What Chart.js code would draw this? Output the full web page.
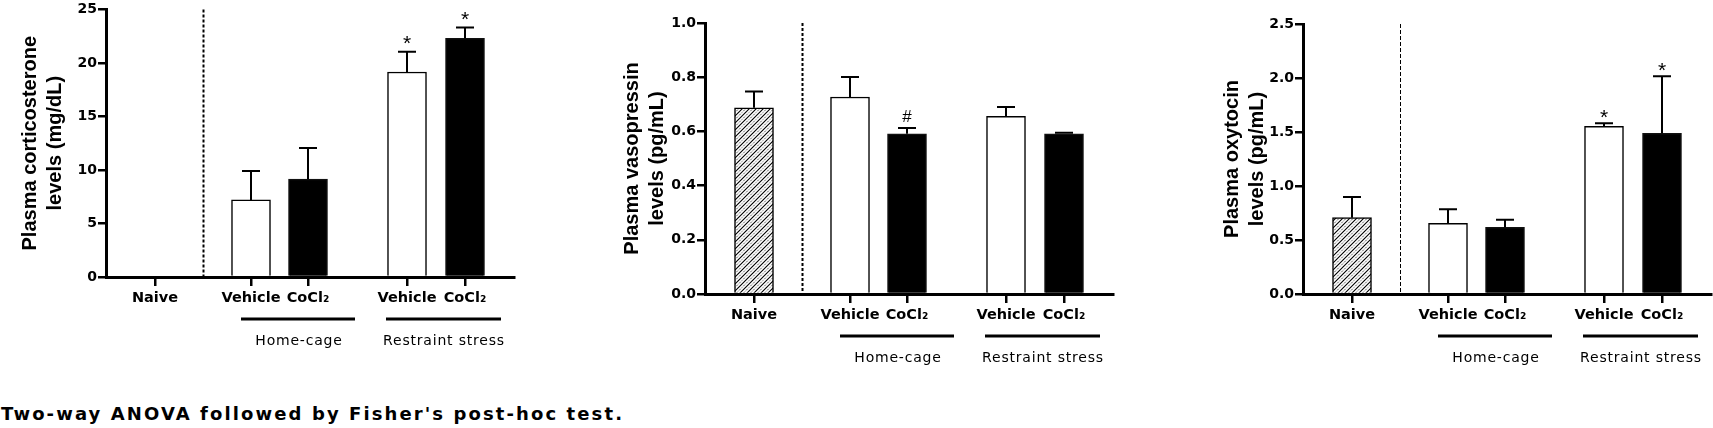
<!DOCTYPE html>
<html>
<head>
<meta charset="utf-8">
<script src="https://cdn.jsdelivr.net/npm/chart.js@4.4.1/dist/chart.umd.min.js"></script>
<style>
  html, body { margin: 0; padding: 0; background: #fff; }
  #page { position: relative; width: 1713px; height: 428px; overflow: hidden; background: #fff; }
  #page canvas { position: absolute; top: 0; }
  #note {
    position: absolute; left: 1px; top: 405px;
    font: bold 18px "DejaVu Sans", sans-serif; line-height: 18px;
    letter-spacing: 2.1px; white-space: nowrap; color: #000;
  }
</style>
</head>
<body>
<div id="page">
  <canvas id="cCort" width="516" height="375" style="left:0px"></canvas>
  <canvas id="cVaso" width="516" height="375" style="left:599px"></canvas>
  <canvas id="cOxy" width="516" height="375" style="left:1197px"></canvas>
  <div id="note">Two-way ANOVA followed by Fisher's post-hoc test.</div>
</div>
<script>
// ---- data ----
const categories = ["Naive", "Vehicle", "CoCl₂", "Vehicle", "CoCl₂"];
const treatment = ["naive", "vehicle", "cocl2", "vehicle", "cocl2"];
const groupNames = ["Home-cage", "Restraint stress"];

const cortMean = [null, 7.2, 9.15, 19.15, 22.3];
const cortSem = [null, 2.7, 2.9, 1.9, 1.0];
const cortMarks = ["", "", "", "*", "*"];

const vasoMean = [0.687, 0.727, 0.591, 0.656, 0.591];
const vasoSem = [0.06, 0.074, 0.022, 0.034, 0.004];
const vasoMarks = ["", "", "#", "", ""];

const oxyMean = [0.707, 0.654, 0.617, 1.552, 1.488];
const oxySem = [0.191, 0.13, 0.071, 0.028, 0.528];
const oxyMarks = ["", "", "", "*", "*"];

// ---- layout (x-axis units = px of plot width) ----
const SLOT_X = [0, 96, 153, 252, 310];
const X_MIN = -49, X_MAX = 359;
const DIVIDER_X = 48;
const GROUP_SPAN = [[86, 200], [231, 346]];
const GROUP_LABEL_X = [144, 289];
const Y_AXIS_W = 106;
const CANVAS_H = 375;
const CAP_W = 18;

Chart.defaults.font.family = "'DejaVu Sans', sans-serif";
Chart.defaults.color = "#000";

function hatchPattern() {
  const s = 7;
  const c = document.createElement("canvas");
  c.width = c.height = s;
  const g = c.getContext("2d");
  g.fillStyle = "#fff";
  g.fillRect(0, 0, s, s);
  g.strokeStyle = "#000";
  g.lineWidth = 1.1;
  g.beginPath();
  for (const k of [0, s, 2 * s]) { g.moveTo(k + 1, -1); g.lineTo(-1, k + 1); }
  g.stroke();
  g.lineWidth = 0.9;
  g.setLineDash([1, 1.2]);
  g.beginPath();
  for (const k of [s / 2, 1.5 * s]) { g.moveTo(k + 1, -1); g.lineTo(-1, k + 1); }
  g.stroke();
  return g.createPattern(c, "repeat");
}

const MARK_FONT = { "*": { size: 21, lift: 12 }, "#": { size: 17, lift: 6 } };

function overlayPlugin(cfg) {
  return {
    id: "overlay",
    afterDatasetsDraw(chart) {
      const { ctx, chartArea: a, scales: { x, y } } = chart;
      const bars = chart.getDatasetMeta(0).data;
      ctx.save();
      // dashed divider between naive and the groups
      ctx.strokeStyle = "#000";
      ctx.lineWidth = cfg.dividerWidth;
      ctx.setLineDash(cfg.dividerDash);
      const dx = Math.round(x.getPixelForValue(DIVIDER_X)) + 0.5;
      ctx.beginPath();
      ctx.moveTo(dx, a.top);
      ctx.lineTo(dx, a.bottom);
      ctx.stroke();
      ctx.setLineDash([]);

      // error bars (upper only) + significance marks
      ctx.lineWidth = 2;
      cfg.mean.forEach((m, i) => {
        if (m == null) return;
        const bx = bars[i].x;
        const yTop = y.getPixelForValue(m);
        const yCap = y.getPixelForValue(m + cfg.sem[i]);
        ctx.beginPath();
        ctx.moveTo(bx, yTop);
        ctx.lineTo(bx, yCap);
        ctx.moveTo(bx - CAP_W / 2, yCap);
        ctx.lineTo(bx + CAP_W / 2, yCap);
        ctx.stroke();
        const mk = cfg.marks[i];
        if (mk) {
          const f = MARK_FONT[mk];
          ctx.font = `${f.size}px 'Liberation Sans', Arial, sans-serif`;
          ctx.fillStyle = "#000";
          ctx.textAlign = "center";
          ctx.textBaseline = "alphabetic";
          ctx.fillText(mk, bx, yCap - cfg.markGap + f.lift);
        }
      });
      ctx.restore();
    },
    afterDraw(chart) {
      const { ctx, chartArea: a, scales: { x } } = chart;
      ctx.save();
      ctx.strokeStyle = "#000";
      ctx.lineWidth = 3;
      ctx.fillStyle = "#000";
      ctx.font = "14px 'DejaVu Sans', sans-serif";
      if ("letterSpacing" in ctx) ctx.letterSpacing = "0.8px";
      ctx.textAlign = "center";
      ctx.textBaseline = "middle";
      GROUP_SPAN.forEach((sp, i) => {
        const ly = a.bottom + 42;
        ctx.beginPath();
        ctx.moveTo(x.getPixelForValue(sp[0]), ly);
        ctx.lineTo(x.getPixelForValue(sp[1]), ly);
        ctx.stroke();
        ctx.fillText(groupNames[i], x.getPixelForValue(GROUP_LABEL_X[i]), a.bottom + 64);
      });
      ctx.restore();
    }
  };
}

function buildPanel(canvasId, cfg) {
  const el = document.getElementById(canvasId);
  const hatch = hatchPattern();
  const fill = { naive: hatch, vehicle: "#fff", cocl2: "#000" };
  const edge = { naive: "#000", vehicle: "#000", cocl2: "#111" };

  return new Chart(el, {
    type: "bar",
    data: {
      datasets: [{
        data: cfg.mean.map((v, i) => ({ x: SLOT_X[i], y: v })),
        backgroundColor: treatment.map(t => fill[t]),
        borderColor: treatment.map(t => edge[t]),
        borderWidth: 1.5,
        borderSkipped: "bottom",
        barThickness: 39
      }]
    },
    options: {
      responsive: false,
      animation: false,
      devicePixelRatio: 1,
      layout: { autoPadding: false, padding: { top: cfg.top, right: 2, bottom: 0, left: 0 } },
      plugins: { legend: { display: false }, tooltip: { enabled: false } },
      scales: {
        x: {
          type: "linear",
          min: X_MIN,
          max: X_MAX,
          offset: false,
          afterBuildTicks: (s) => { s.ticks = SLOT_X.map(v => ({ value: v })); },
          afterFit: (s) => { s.height = CANVAS_H - cfg.bottom; },
          ticks: {
            autoSkip: false, maxRotation: 0, padding: 4,
            font: { size: 14.5, weight: "bold" },
            callback: (_v, i) => categories[i]
          },
          grid: { display: true, offset: false, drawOnChartArea: false, drawTicks: true, tickLength: 9, color: "#000", lineWidth: 2.5 },
          border: { display: true, color: "#000", width: 3 }
        },
        y: {
          min: 0,
          max: cfg.yMax,
          afterFit: (s) => { s.width = Y_AXIS_W; },
          ticks: {
            stepSize: cfg.yStep, padding: 1,
            font: { size: 14, weight: "bold" },
            callback: (v) => cfg.yDigits ? Number(v).toFixed(cfg.yDigits) : String(v)
          },
          grid: { display: true, drawOnChartArea: false, drawTicks: true, tickLength: 8, color: "#000", lineWidth: 2.5 },
          border: { display: true, color: "#000", width: 3 },
          title: {
            display: true,
            text: cfg.title,
            padding: { top: cfg.titlePad, bottom: 0 },
            font: { family: "'Liberation Sans', Arial, sans-serif", size: 20, weight: "bold", lineHeight: 1.25 }
          }
        }
      }
    },
    plugins: [overlayPlugin(cfg)]
  });
}

buildPanel("cCort", {
  mean: cortMean, sem: cortSem, marks: cortMarks,
  yMax: 25, yStep: 5, yDigits: 0,
  title: ["Plasma corticosterone", "levels (mg/dL)"],
  top: 7, bottom: 277, titlePad: 17.5, markGap: 14,
  dividerWidth: 2, dividerDash: [3, 2]
});

buildPanel("cVaso", {
  mean: vasoMean, sem: vasoSem, marks: vasoMarks,
  yMax: 1.0, yStep: 0.2, yDigits: 1,
  title: ["Plasma vasopressin", "levels (pg/mL)"],
  top: 23, bottom: 294, titlePad: 20.5, markGap: 12,
  dividerWidth: 2, dividerDash: [3, 2]
});

buildPanel("cOxy", {
  mean: oxyMean, sem: oxySem, marks: oxyMarks,
  yMax: 2.5, yStep: 0.5, yDigits: 1,
  title: ["Plasma oxytocin", "levels (pg/mL)"],
  top: 24, bottom: 294, titlePad: 22.5, markGap: 11,
  dividerWidth: 1, dividerDash: [4, 2]
});
</script>
</body>
</html>
